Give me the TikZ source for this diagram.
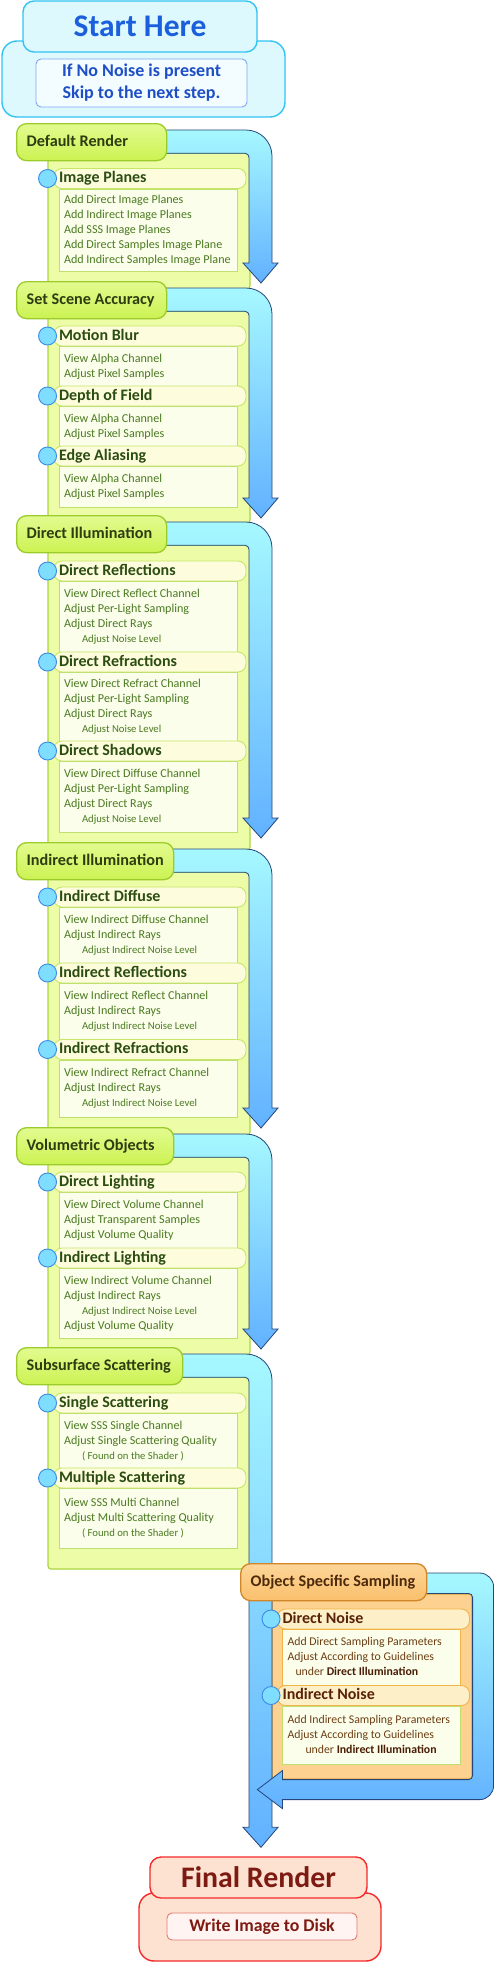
\documentclass[tikz,border=0pt]{standalone}
\usepackage{fontspec}
\setmainfont{Carlito}
\usetikzlibrary{positioning,calc}
\pgfdeclarelayer{back}
\pgfdeclarelayer{flow}
\pgfsetlayers{back,flow,main}

\definecolor{startline}{HTML}{33C3F2}
\definecolor{startfill}{HTML}{DDF9FE}
\definecolor{starttext}{HTML}{1C5FDC}
\definecolor{noteline}{HTML}{7FA6EE}
\definecolor{notefill}{HTML}{F3FCFF}
\definecolor{notetext}{HTML}{1F4FC6}
\definecolor{headtop}{HTML}{E2FB90}
\definecolor{headbot}{HTML}{CCF252}
\definecolor{headline}{HTML}{9CCB2C}
\definecolor{headtext}{HTML}{2D3D10}
\definecolor{stagefill}{HTML}{EDFCA6}
\definecolor{stageline}{HTML}{A9D63E}
\definecolor{barfill}{HTML}{FDFDDD}
\definecolor{barline}{HTML}{C6E668}
\definecolor{bartext}{HTML}{2C4D12}
\definecolor{bodyfill}{HTML}{FAFEEA}
\definecolor{bodyline}{HTML}{BFE070}
\definecolor{bodytext}{HTML}{4C7A22}
\definecolor{dotfill}{HTML}{7FDDFF}
\definecolor{dotline}{HTML}{3A8CE6}
\definecolor{arrowtop}{HTML}{A6F8FF}
\definecolor{arrowbot}{HTML}{62B1FF}
\definecolor{arrowline}{HTML}{24467A}
\definecolor{osstop}{HTML}{FDD699}
\definecolor{ossbot}{HTML}{FABF6C}
\definecolor{ossline}{HTML}{D2862A}
\definecolor{osstext}{HTML}{4E2A0C}
\definecolor{ossfill}{HTML}{FDD18F}
\definecolor{ossbodyline}{HTML}{E3A23F}
\definecolor{ossbarfill}{HTML}{FDEFC8}
\definecolor{ossbarline}{HTML}{F0B448}
\definecolor{ossitemtext}{HTML}{5A2205}
\definecolor{osscontent}{HTML}{6E3D14}
\definecolor{ossbold}{HTML}{4A1C06}
\definecolor{frfill}{HTML}{FDE2D2}
\definecolor{frline}{HTML}{F42A2A}
\definecolor{frtext}{HTML}{7D1B12}
\definecolor{frnotefill}{HTML}{FFF4F1}
\definecolor{frnoteline}{HTML}{E07A6C}

\newcommand{\bodyfont}{\fontsize{12.1}{15}\selectfont}
\newcommand{\subline}[1]{\hspace*{18pt}{\fontsize{10.7}{15}\selectfont #1}}
\newcommand{\itemlines}[1]{\makebox[168pt][l]{\begin{tabular}{@{}l@{}}#1\end{tabular}}}

\tikzset{
  stagehead/.style={draw=headline, line width=1.3pt, top color=headtop, bottom color=headbot,
    rounded corners=10pt, anchor=north west, minimum height=37pt, inner xsep=10pt, inner ysep=0pt,
    font=\fontsize{16.2}{18}\selectfont\bfseries, text=headtext, text height=11pt, text depth=3pt},
  stagebody/.style={draw=stageline, fill=stagefill, line width=1.2pt, rounded corners=3pt},
  itembar/.style={draw=barline, fill=barfill, line width=0.9pt, rounded corners=8pt, minimum height=20pt,
    inner xsep=5pt, inner ysep=0pt, text=bartext,
    font=\fontsize{16}{18}\selectfont\bfseries, text height=11pt, text depth=3pt},
  itembody/.style={draw=bodyline, fill=bodyfill, line width=0.9pt, inner xsep=5pt,
    inner ysep=0pt, text=bodytext, font=\bodyfont},
  dot/.style={circle, draw=dotline, fill=dotfill, line width=0.9pt, minimum size=18pt, inner sep=0pt},
  flowarrow/.style={draw=arrowline, line width=0.8pt, top color=arrowtop, bottom color=arrowbot},
  startbox/.style={draw=startline, fill=startfill, line width=1.4pt, rounded corners=11pt, inner sep=0pt},
  finalbox/.style={draw=frline, fill=frfill, line width=1.4pt, rounded corners=11pt, inner sep=0pt}
}

\newcommand{\stagearrow}[3][-1pt]{%
  \path[flowarrow] let \p1=(#2.north), \p2=(#2.south), \p3=(#3.north) in
    (\x1,\y1-7pt) -- (246pt,\y1-7pt) arc[start angle=90, end angle=0, radius=26pt]
    -- (272pt,{\y3+(#1)+20pt}) -- (278pt,{\y3+(#1)+20pt}) -- (261pt,{\y3+(#1)})
    -- (243pt,{\y3+(#1)+20pt}) -- (249pt,{\y3+(#1)+20pt}) -- (249pt,\y2+4pt)
    arc[start angle=0, end angle=90, radius=4pt] -- (\x2,\y2+8pt) -- cycle;}

\begin{document}
\begin{tikzpicture}[x=1pt, y=1pt]
\useasboundingbox (0,0) rectangle (494,-1962);

\node[startbox, minimum width=283, minimum height=76, rounded corners=15pt] (sho) at (143.5,-79) {};
\node[startbox, minimum width=234, minimum height=51, text=starttext,
  font=\fontsize{31.5}{34}\selectfont\bfseries] (sh) at (140,-26.5) {Start Here};
\node[draw=noteline, fill=notefill, line width=0.9pt, rounded corners=5pt, inner sep=0pt,
  minimum width=211, minimum height=48, align=center, text=notetext,
  font=\fontsize{18}{22}\selectfont\bfseries] (shn) at (141.5,-83) {If No Noise is present\\Skip to the next step.};

\foreach \nm/\y/\tw/\ttl in {dr/123/130/Default Render, ssa/281/130/Set Scene Accuracy,
  dil/515/130/Direct Illumination, iil/842/137/Indirect Illumination,
  vo/1127/137/Volumetric Objects, sss/1347/146/Subsurface Scattering}
{
  \node[stagehead] (\nm) at (16,-\y) {\makebox[\tw pt][l]{\ttl}};
}

\foreach \nm/\y/\h/\ttl/\txt in {
  ip/178.5/82/Image Planes/{Add Direct Image Planes\\Add Indirect Image Planes\\Add SSS Image Planes\\Add Direct Samples Image Plane\\Add Indirect Samples Image Plane},
  mb/336/40/Motion Blur/{View Alpha Channel\\Adjust Pixel Samples},
  dof/396/40/Depth of Field/{View Alpha Channel\\Adjust Pixel Samples},
  ea/456/41/Edge Aliasing/{View Alpha Channel\\Adjust Pixel Samples},
  drl/571/71/Direct Reflections/{View Direct Reflect Channel\\Adjust Per-Light Sampling\\Adjust Direct Rays\\\subline{Adjust Noise Level}},
  drr/662/69/Direct Refractions/{View Direct Refract Channel\\Adjust Per-Light Sampling\\Adjust Direct Rays\\\subline{Adjust Noise Level}},
  dsw/751/71/Direct Shadows/{View Direct Diffuse Channel\\Adjust Per-Light Sampling\\Adjust Direct Rays\\\subline{Adjust Noise Level}},
  idf/897/56/Indirect Diffuse/{View Indirect Diffuse Channel\\Adjust Indirect Rays\\\subline{Adjust Indirect Noise Level}},
  irl/973/56/Indirect Reflections/{View Indirect Reflect Channel\\Adjust Indirect Rays\\\subline{Adjust Indirect Noise Level}},
  irr/1049.5/57/Indirect Refractions/{View Indirect Refract Channel\\Adjust Indirect Rays\\\subline{Adjust Indirect Noise Level}},
  dlt/1182/56/Direct Lighting/{View Direct Volume Channel\\Adjust Transparent Samples\\Adjust Volume Quality},
  ilt/1258/70/Indirect Lighting/{View Indirect Volume Channel\\Adjust Indirect Rays\\\subline{Adjust Indirect Noise Level}\\Adjust Volume Quality},
  ssc/1403/55/Single Scattering/{View SSS Single Channel\\Adjust Single Scattering Quality\\\subline{( Found on the Shader )}},
  msc/1478/60/Multiple Scattering/{View SSS Multi Channel\\Adjust Multi Scattering Quality\\\subline{( Found on the Shader )}}}
{
  \node[itembar] (\nm) at (150,-\y) {\makebox[182pt][l]{\ttl}};
  \node[itembody, minimum height=\h, below right=0pt and 5pt of \nm.south west] (\nm-b) {\itemlines{\txt}};
  \node[dot] (\nm-d) at ($(\nm.west)+(-6,0)$) {};
}

\node[stagehead, top color=osstop, bottom color=ossbot, draw=ossline, text=osstext]
  (oss) at (240,-1563) {\makebox[166pt][l]{Object Specific Sampling}};
\node[itembar, draw=ossbarline, fill=ossbarfill, text=ossitemtext] (dn) at (373.5,-1619) {\makebox[182pt][l]{Direct Noise}};
\node[itembody, draw=ossbarline, text=osscontent, minimum height=56, font=\fontsize{11.8}{15}\selectfont,
  below right=0pt and 5pt of dn.south west] (dn-b)
  {\itemlines{Add Direct Sampling Parameters\\Adjust According to Guidelines\\\hspace*{8pt}under \textbf{\color{ossbold}Direct Illumination}}};
\node[dot] (dn-d) at ($(dn.west)+(-6,0)$) {};
\node[itembar, draw=ossbarline, fill=ossbarfill, text=ossitemtext] (in) at (373.5,-1695.5) {\makebox[182pt][l]{Indirect Noise}};
\node[itembody, text=osscontent, minimum height=58, font=\fontsize{11.8}{15}\selectfont,
  below right=0pt and 5pt of in.south west] (in-b)
  {\itemlines{Add Indirect Sampling Parameters\\Adjust According to Guidelines\\\hspace*{18pt}under \textbf{\color{ossbold}Indirect Illumination}}};
\node[dot] (in-d) at ($(in.west)+(-6,0)$) {};

\node[finalbox, minimum width=242, minimum height=68, rounded corners=15pt] (fro) at (260,-1927) {};
\node[finalbox, minimum width=217, minimum height=41, text=frtext,
  font=\fontsize{29.8}{32}\selectfont\bfseries] (fr) at (258.5,-1877.5) {Final Render};
\node[draw=frnoteline, fill=frnotefill, line width=0.9pt, rounded corners=5pt, inner sep=0pt,
  minimum width=190, minimum height=27, text=frtext,
  font=\fontsize{17.8}{20}\selectfont\bfseries] (frn) at (262,-1926.5) {Write Image to Disk};

\begin{pgfonlayer}{back}
\foreach \a/\b in {dr/ssa, ssa/dil, dil/iil, iil/vo, vo/sss}
{
  \draw[stagebody] ($(\a.south -| 48,0)+(0,8)$) rectangle ($(\b.north -| 250,0)+(0,-8)$);
}
\draw[stagebody] ($(sss.south -| 48,0)+(0,8)$) rectangle (250,-1569);
\node[draw=ossbodyline, fill=ossfill, line width=1.2pt, rounded corners=3pt,
  minimum width=200, minimum height=185] (ossb) at (372,-1686.5) {};
\end{pgfonlayer}

\begin{pgfonlayer}{flow}
\stagearrow[-2pt]{dr}{ssa}
\stagearrow[-3pt]{ssa}{dil}
\stagearrow[4pt]{dil}{iil}
\stagearrow{iil}{vo}
\stagearrow[-2pt]{vo}{sss}
\stagearrow[9pt]{sss}{fr}
\path[flowarrow] let \p1=(oss.north), \p2=(ossb.north east), \p3=(ossb.south west) in
  (\x1,\y1-10pt) -- (\x2+7pt,\y1-10pt) arc[start angle=90, end angle=0, radius=14pt]
  -- (\x2+21pt,\y3-6pt) arc[start angle=0, end angle=-90, radius=14pt]
  -- (\x3+11pt,\y3-20pt) -- (\x3+11pt,\y3-29pt) -- (\x3-14pt,\y3-10pt)
  -- (\x3+11pt,\y3+9pt) -- (\x3+11pt,\y3) -- (\x2-4pt,\y3)
  arc[start angle=-90, end angle=0, radius=4pt] -- (\x2,\y2-4pt)
  arc[start angle=0, end angle=90, radius=4pt] -- (\x1,\y2) -- cycle;
\end{pgfonlayer}
\end{tikzpicture}
\end{document}
